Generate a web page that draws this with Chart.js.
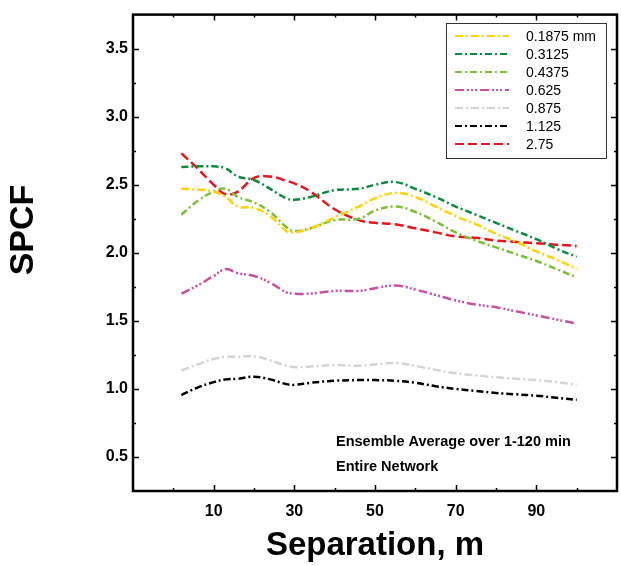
<!DOCTYPE html>
<html>
<head>
<meta charset="utf-8">
<script src="https://cdn.jsdelivr.net/npm/chart.js@4.4.1/dist/chart.umd.min.js"></script>
<style>
    html, body { margin: 0; padding: 0; background: #fff; }
    canvas { display: block; }
</style>
</head>
<body>
<canvas id="spcfChart" width="621" height="566"></canvas>
<script>
// separation (m) shared by all curves
var separation = [2, 6, 10, 13, 16, 20, 24, 28, 30, 34, 40, 46, 50, 55, 60, 65, 70, 75, 80, 85, 90, 95, 100];

// SPCF per grain size
var spcf01875 = [2.47, 2.465, 2.45, 2.41, 2.34, 2.33, 2.27, 2.16, 2.15, 2.18, 2.26, 2.34, 2.40, 2.44, 2.41, 2.34, 2.27, 2.21, 2.14, 2.08, 2.01, 1.95, 1.88];
var spcf03125 = [2.63, 2.635, 2.635, 2.62, 2.56, 2.535, 2.47, 2.40, 2.39, 2.41, 2.46, 2.47, 2.50, 2.52, 2.47, 2.41, 2.34, 2.28, 2.22, 2.16, 2.10, 2.03, 1.97];
var spcf04375 = [2.28, 2.38, 2.45, 2.47, 2.41, 2.37, 2.30, 2.19, 2.16, 2.18, 2.24, 2.25, 2.31, 2.34, 2.30, 2.23, 2.15, 2.09, 2.04, 1.99, 1.94, 1.88, 1.82];
var spcf0625 = [1.70, 1.76, 1.83, 1.88, 1.85, 1.83, 1.78, 1.71, 1.70, 1.70, 1.72, 1.72, 1.74, 1.76, 1.73, 1.69, 1.65, 1.62, 1.60, 1.57, 1.54, 1.51, 1.48];
var spcf0875 = [1.135, 1.18, 1.22, 1.235, 1.235, 1.24, 1.21, 1.17, 1.16, 1.165, 1.175, 1.17, 1.18, 1.19, 1.17, 1.14, 1.115, 1.10, 1.085, 1.075, 1.065, 1.05, 1.03];
var spcf1125 = [0.955, 1.01, 1.05, 1.07, 1.075, 1.09, 1.07, 1.035, 1.03, 1.045, 1.06, 1.065, 1.065, 1.06, 1.045, 1.02, 1.00, 0.985, 0.97, 0.96, 0.95, 0.935, 0.92];
var spcf275 = [2.73, 2.62, 2.50, 2.43, 2.45, 2.55, 2.56, 2.53, 2.51, 2.45, 2.32, 2.24, 2.22, 2.21, 2.18, 2.15, 2.12, 2.11, 2.09, 2.08, 2.07, 2.06, 2.05];

var seriesLabels = ['0.1875 mm', '0.3125', '0.4375', '0.625', '0.875', '1.125', '2.75'];

var xTicks = [10, 30, 50, 70, 90];
var xMinor = [0, 20, 40, 60, 80, 100];
var yTicks = [0.5, 1.0, 1.5, 2.0, 2.5, 3.0, 3.5];
var yMinor = [0.75, 1.25, 1.75, 2.25, 2.75, 3.25];

var noteLines = ['Ensemble Average over 1-120 min', 'Entire Network'];

Chart.defaults.font.family = 'Arial, "Liberation Sans", Helvetica, sans-serif';

function pts(vals) {
    return separation.map(function(x, i) { return { x: x, y: vals[i] }; });
}

// frame, inward ticks, y title, legend box and note
var decorations = {
    id: 'decorations',
    afterDatasetsDraw: function(chart) {
        var ctx = chart.ctx;
        var a = chart.chartArea;
        var xs = chart.scales.x, ys = chart.scales.y;
        ctx.save();

        ctx.strokeStyle = '#000';
        ctx.lineWidth = 1.5;
        ctx.beginPath();
        xTicks.concat(xMinor).forEach(function(v) {
            var len = xTicks.indexOf(v) >= 0 ? 6 : 3;
            var px = Math.round(xs.getPixelForValue(v)) + 0.5;
            ctx.moveTo(px, a.bottom); ctx.lineTo(px, a.bottom - len);
            ctx.moveTo(px, a.top); ctx.lineTo(px, a.top + len);
        });
        yTicks.concat(yMinor).forEach(function(v) {
            var len = yTicks.indexOf(v) >= 0 ? 6 : 3;
            var py = Math.round(ys.getPixelForValue(v)) + 0.5;
            ctx.moveTo(a.left, py); ctx.lineTo(a.left + len, py);
            ctx.moveTo(a.right, py); ctx.lineTo(a.right - len, py);
        });
        ctx.stroke();

        ctx.lineWidth = 2.5;
        ctx.strokeRect(a.left, a.top, a.right - a.left, a.bottom - a.top);

        // y title
        ctx.save();
        ctx.translate(24, 230);
        ctx.rotate(-Math.PI / 2);
        ctx.fillStyle = '#000';
        ctx.font = 'bold 34px ' + Chart.defaults.font.family;
        ctx.textAlign = 'center';
        ctx.textBaseline = 'middle';
        ctx.fillText('SPCF', 0, 0);
        ctx.restore();

        // legend
        ctx.fillStyle = '#fff';
        ctx.fillRect(446, 23, 160, 135);
        ctx.strokeStyle = '#333';
        ctx.lineWidth = 1;
        ctx.strokeRect(446.5, 23.5, 160, 135);
        ctx.font = '14px ' + Chart.defaults.font.family;
        ctx.textAlign = 'left';
        ctx.textBaseline = 'middle';
        chart.data.datasets.forEach(function(ds, i) {
            var y = 36 + i * 18;
            ctx.strokeStyle = ds.borderColor;
            ctx.lineWidth = 2;
            ctx.setLineDash(ds.borderDash || []);
            ctx.beginPath();
            ctx.moveTo(455, y); ctx.lineTo(509, y);
            ctx.stroke();
            ctx.setLineDash([]);
            ctx.fillStyle = '#000';
            ctx.fillText(ds.label, 526, y + 1);
        });

        // note
        ctx.font = 'bold 14.5px ' + Chart.defaults.font.family;
        noteLines.forEach(function(t, i) {
            ctx.fillText(t, 336, 442 + i * 25);
        });
        ctx.restore();
    }
};

var ctx = document.getElementById('spcfChart');
var spcfChart = new Chart(ctx, {
    type: 'line',
    data: {
        datasets: [
            { label: seriesLabels[0], data: pts(spcf01875), borderColor: '#FFD200', borderDash: [8, 3, 2, 3] },
            { label: seriesLabels[1], data: pts(spcf03125), borderColor: '#0B8A40', borderDash: [7, 3, 2, 3] },
            { label: seriesLabels[2], data: pts(spcf04375), borderColor: '#7CBE34', borderDash: [7, 3, 2, 3] },
            { label: seriesLabels[3], data: pts(spcf0625), borderColor: '#C8509E', borderDash: [9, 3, 2, 2, 2, 2, 2, 3] },
            { label: seriesLabels[4], data: pts(spcf0875), borderColor: '#D4D4D4', borderDash: [8, 3, 2, 3] },
            { label: seriesLabels[5], data: pts(spcf1125), borderColor: '#000000', borderDash: [7, 3, 2, 3] },
            { label: seriesLabels[6], data: pts(spcf275), borderColor: '#E8141E', borderDash: [9, 4] }
        ]
    },
    options: {
        responsive: false,
        animation: false,
        layout: { padding: { top: 7, right: 4, left: 0, bottom: 0 } },
        elements: {
            point: { radius: 0 },
            line: { tension: 0.4, borderWidth: 2.5, fill: false }
        },
        plugins: {
            legend: { display: false },
            tooltip: { enabled: false }
        },
        scales: {
            x: {
                type: 'linear',
                min: -10,
                max: 110,
                grid: { display: false, drawTicks: false },
                border: { display: false },
                afterBuildTicks: function(s) { s.ticks = xTicks.map(function(v) { return { value: v }; }); },
                afterFit: function(s) { s.height = 75; },
                ticks: {
                    padding: 11,
                    color: '#000',
                    font: { size: 16, weight: 'bold' },
                    callback: function(v) { return String(v); }
                },
                title: {
                    display: true,
                    text: 'Separation, m',
                    color: '#000',
                    font: { size: 33, weight: 'bold' },
                    padding: { top: 0, bottom: 0 }
                }
            },
            y: {
                min: 0.25,
                max: 3.75,
                grid: { display: false, drawTicks: false },
                border: { display: false },
                afterBuildTicks: function(s) { s.ticks = yTicks.map(function(v) { return { value: v }; }); },
                afterFit: function(s) { s.width = 133; },
                ticks: {
                    padding: 5,
                    color: '#000',
                    font: { size: 16, weight: 'bold' },
                    callback: function(v) { return v.toFixed(1); }
                }
            }
        }
    },
    plugins: [decorations]
});
</script>
</body>
</html>
